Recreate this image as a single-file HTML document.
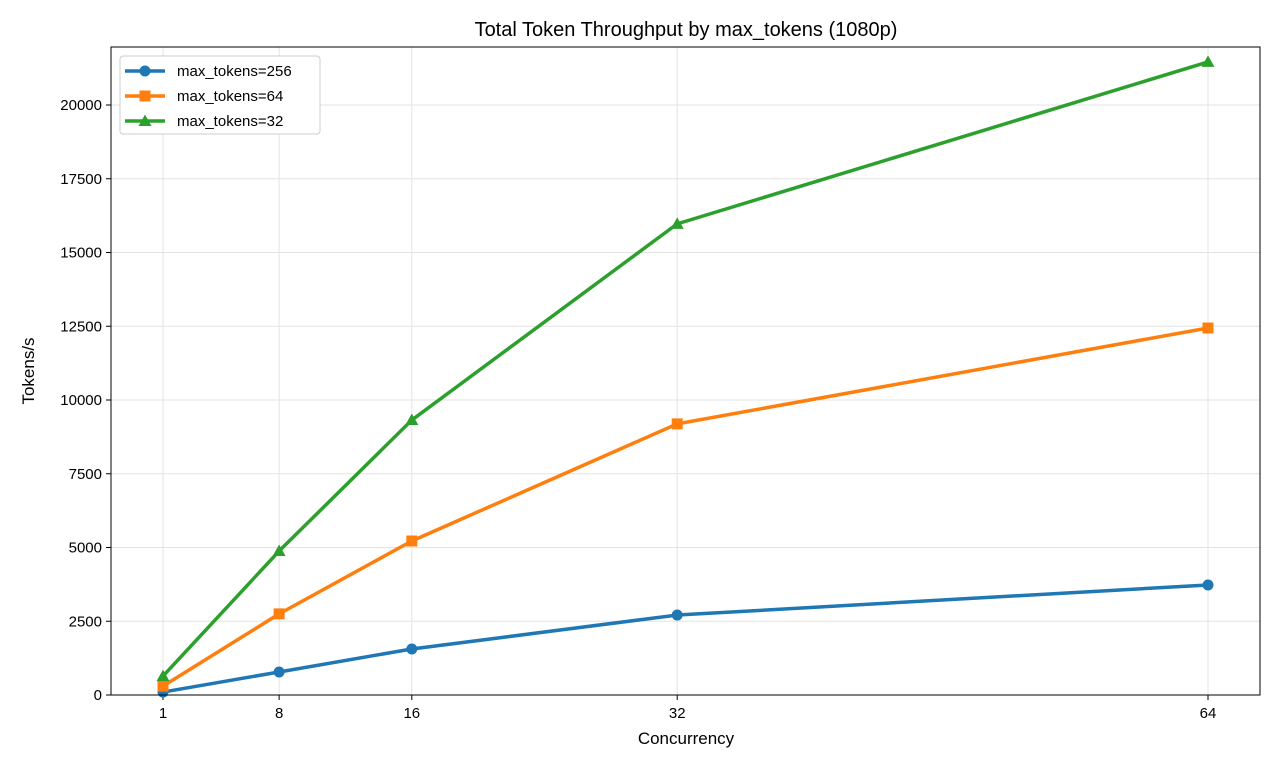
<!DOCTYPE html>
<html><head><meta charset="utf-8"><style>
body{margin:0;background:#fff;}
svg text{font-family:"Liberation Sans",sans-serif;fill:#000;}
</style></head><body>
<svg id="chart" width="1280" height="768">
<text x="686" y="36" font-size="20" text-anchor="middle">Total Token Throughput by max_tokens (1080p)</text>
<g id="grid"></g><g id="axes"></g><g id="series"></g>
<rect x="111" y="47" width="1149" height="648" fill="none" stroke="#000" stroke-width="1"/>
<text x="686" y="744" font-size="17" text-anchor="middle">Concurrency</text>
<text transform="translate(34,371) rotate(-90)" font-size="17" text-anchor="middle">Tokens/s</text>
<g id="legend"></g>
</svg>
<script>
const categories=[1,8,16,32,64];
const seriesNames=["max_tokens=256","max_tokens=64","max_tokens=32"];
const values256=[100,780,1560,2710,3730];
const values64=[300,2750,5220,9190,12440];
const values32=[640,4880,9320,15970,21460];
const yTicks=[0,2500,5000,7500,10000,12500,15000,17500,20000];
const NS="http://www.w3.org/2000/svg";
function X(v){return 163+(v-1)*(1045/63);}
function Y(v){return 695-v*0.0295;}
function mk(tag,attrs,parent){const e=document.createElementNS(NS,tag);for(const k in attrs)e.setAttribute(k,attrs[k]);parent.appendChild(e);return e;}
const grid=document.getElementById('grid'),axes=document.getElementById('axes'),ser=document.getElementById('series'),leg=document.getElementById('legend');
yTicks.forEach(t=>{
 const l=mk('line',{x1:111,x2:1260,y1:Y(t),y2:Y(t),stroke:'#e3e3e3','stroke-width':1},grid);
 
 
 mk('line',{x1:106,x2:111,y1:Y(t),y2:Y(t),stroke:'#000'},axes);
 const tx=mk('text',{x:102,y:Y(t)+5,'font-size':15,'text-anchor':'end'},axes);tx.textContent=t;
 
 
});
categories.forEach(c=>{
 const l=mk('line',{x1:X(c),x2:X(c),y1:47,y2:695,stroke:'#e3e3e3','stroke-width':1},grid);
 
 
 mk('line',{x1:X(c),x2:X(c),y1:695,y2:700,stroke:'#000'},axes);
 const tx=mk('text',{x:X(c),y:718,'font-size':15,'text-anchor':'middle'},axes);tx.textContent=c;
 
 
});
const colors=['#1f77b4','#ff7f0e','#2ca02c'];
const all=[values256,values64,values32];
const markers=['circle','square','triangle'];
function marker(type,x,y,c,p){
 if(type==='circle')return mk('circle',{cx:x,cy:y,r:5.5,fill:c},p);
 if(type==='square')return mk('rect',{x:x-5.5,y:y-5.5,width:11,height:11,fill:c},p);
 return mk('polygon',{points:`${x},${y-6.5} ${x+6.5},${y+5} ${x-6.5},${y+5}`,fill:c},p);
}
all.forEach((vals,i)=>{
 const g=mk('g',{},ser);
 
 
 const pl=mk('polyline',{points:vals.map((v,j)=>X(categories[j])+','+Y(v)).join(' '),fill:'none',stroke:colors[i],'stroke-width':3.5,'stroke-linejoin':'round'},g);
 
 
 vals.forEach((v,j)=>{const m=marker(markers[i],X(categories[j]),Y(v),colors[i],g);
  
  });
});
const box=mk('rect',{x:120,y:56,width:200,height:78,fill:'#fff',stroke:'#ccc',rx:3},leg);


seriesNames.forEach((n,i)=>{
 const y=71+i*25;
 mk('line',{x1:125,x2:165,y1:y,y2:y,stroke:colors[i],'stroke-width':3.5},leg);
 marker(markers[i],145,y,colors[i],leg);
 const t=mk('text',{x:177,y:y+5,'font-size':15},leg);t.textContent=n;
 
 
});
</script>
</body></html>
